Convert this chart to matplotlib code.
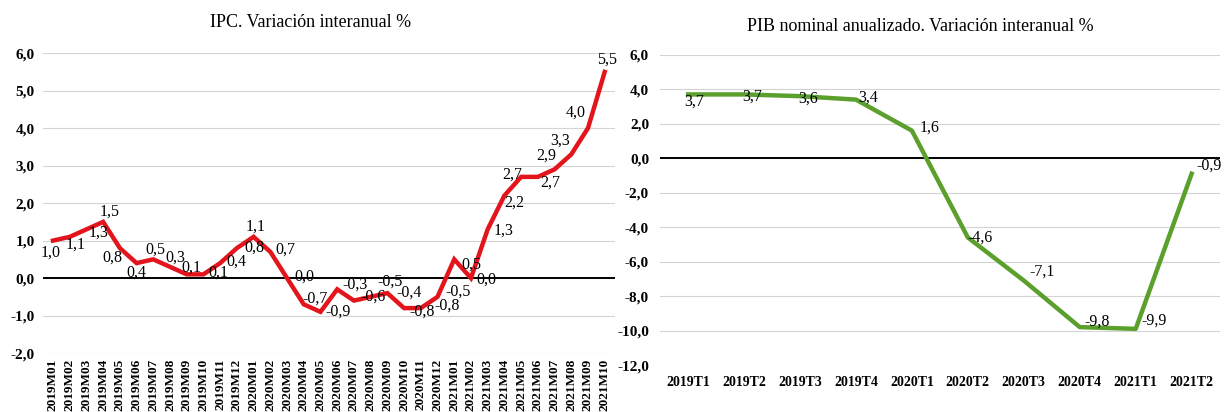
import matplotlib
matplotlib.use("Agg")
import matplotlib.pyplot as plt
from matplotlib.ticker import FuncFormatter, MultipleLocator

# ---- data ----
ipc_months = ["2019M01", "2019M02", "2019M03", "2019M04", "2019M05", "2019M06",
              "2019M07", "2019M08", "2019M09", "2019M10", "2019M11", "2019M12",
              "2020M01", "2020M02", "2020M03", "2020M04", "2020M05", "2020M06",
              "2020M07", "2020M08", "2020M09", "2020M10", "2020M11", "2020M12",
              "2021M01", "2021M02", "2021M03", "2021M04", "2021M05", "2021M06",
              "2021M07", "2021M08", "2021M09", "2021M10"]
ipc_values = [1.0, 1.1, 1.3, 1.5, 0.8, 0.4, 0.5, 0.3, 0.1, 0.1, 0.4, 0.8,
              1.1, 0.7, 0.0, -0.7, -0.9, -0.3, -0.6, -0.5, -0.4, -0.8, -0.8, -0.5,
              0.5, 0.0, 1.3, 2.2, 2.7, 2.7, 2.9, 3.3, 4.0, 5.5]

pib_quarters = ["2019T1", "2019T2", "2019T3", "2019T4", "2020T1",
                "2020T2", "2020T3", "2020T4", "2021T1", "2021T2"]
pib_values = [3.7, 3.7, 3.6, 3.4, 1.6, -4.6, -7.1, -9.8, -9.9, -0.9]

# label offsets in pixels (style only)
ipc_offsets = [(-2, -12), (6, -8), (12, -3), (7, 10), (-7, -10), (0, -10),
               (2, 10), (5, 9), (5, 7), (15, 2), (16, 1), (17, 0),
               (2, 10), (15, 2), (17, 1), (11, 6), (18, 0), (18, 5),
               (19, 4), (19, 15), (22, 0), (18, -4), (26, 2), (21, 5),
               (17, -5), (15, -2), (16, -1), (10, -7), (-9, 2), (12, -6),
               (-8, 14), (-11, 14), (-12, 15), (2, 12)]
pib_offsets = [(6, -7), (8, -2), (8, -2), (12, 2), (18, 3),
               (12, 0), (18, 9), (17, 5), (18, 8), (17, 8)]

serif = ["Liberation Serif", "DejaVu Serif"]
plt.rcParams["font.family"] = serif

comma = FuncFormatter(lambda v, p: f"{v:.1f}".replace(".", ","))
fmt = lambda v: f"{v:.1f}".replace(".", ",")

fig = plt.figure(figsize=(12.27, 4.12), dpi=100)

# ---------------- IPC ----------------
ax1 = fig.add_axes([0.035, 0.143, 0.466, 0.728])
x1 = list(range(len(ipc_values)))
ax1.plot(x1, ipc_values, color="#e3141b", lw=3.2, solid_joinstyle="miter", zorder=3)
ax1.axhline(0, color="black", lw=1.4, zorder=2)
ax1.set_ylim(-2, 6)
ax1.set_xlim(-0.6, len(ipc_values) - 0.4)
ax1.yaxis.set_major_locator(MultipleLocator(1))
ax1.yaxis.set_major_formatter(comma)
ax1.grid(axis="y", color="#d4d4d4", lw=0.8)
ax1.set_xticks(x1)
ax1.set_xticklabels(ipc_months, rotation=90, fontsize=9.5, fontweight="bold")
for t in ax1.get_yticklabels():
    t.set_fontweight("bold")
    t.set_fontsize(11)
ax1.tick_params(length=0, pad=6)
ax1.tick_params(axis="x", pad=4)
for s in ax1.spines.values():
    s.set_visible(False)
for xi, v, off in zip(x1, ipc_values, ipc_offsets):
    ax1.annotate(fmt(v), (xi, v), xytext=off, textcoords="offset pixels",
                 ha="center", va="center", fontsize=11.5, zorder=4)
fig.text(0.253, 0.945, "IPC. Variación interanual %", ha="center", va="center",
         fontsize=13)

# ---------------- PIB ----------------
ax2 = fig.add_axes([0.538, 0.114, 0.456, 0.753])
x2 = list(range(len(pib_values)))
ax2.plot(x2, pib_values, color="#5b9f2c", lw=3.2, zorder=3)
ax2.axhline(0, color="black", lw=1.4, zorder=2)
ax2.set_ylim(-12, 6)
ax2.set_xlim(-0.5, len(pib_values) - 0.5)
ax2.yaxis.set_major_locator(MultipleLocator(2))
ax2.yaxis.set_major_formatter(comma)
ax2.grid(axis="y", color="#d4d4d4", lw=0.8)
ax2.set_xticks(x2)
ax2.set_xticklabels(pib_quarters, fontsize=10, fontweight="bold")
for t in ax2.get_yticklabels():
    t.set_fontweight("bold")
    t.set_fontsize(11)
ax2.tick_params(length=0, pad=8)
for s in ax2.spines.values():
    s.set_visible(False)
for xi, v, off in zip(x2, pib_values, pib_offsets):
    ax2.annotate(fmt(v), (xi, v), xytext=off, textcoords="offset pixels",
                 ha="center", va="center", fontsize=11.5, zorder=4)
fig.text(0.75, 0.935, "PIB nominal anualizado. Variación interanual %",
         ha="center", va="center", fontsize=13)

fig.savefig("out.png", dpi=100)
